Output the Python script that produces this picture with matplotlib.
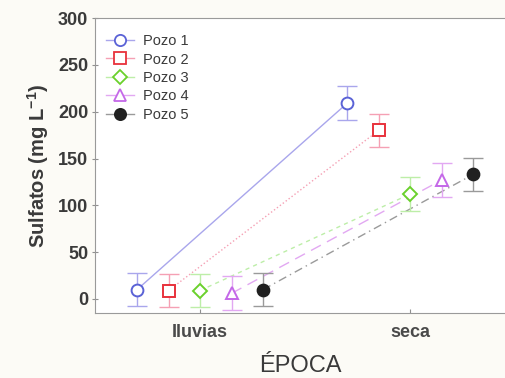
import matplotlib.pyplot as plt
from matplotlib.lines import Line2D
import numpy as np

plt.rcParams['font.family'] = ['Liberation Sans', 'DejaVu Sans']

# Sulfate means and error half-widths per well and season
epocas = ['lluvias', 'seca']
pozos = ['Pozo 1', 'Pozo 2', 'Pozo 3', 'Pozo 4', 'Pozo 5']
medias = {
    'Pozo 1': [10, 209],
    'Pozo 2': [9, 180],
    'Pozo 3': [9, 112],
    'Pozo 4': [6, 127],
    'Pozo 5': [10, 133],
}
errores = {
    'Pozo 1': [18, 18],
    'Pozo 2': [18, 18],
    'Pozo 3': [18, 18],
    'Pozo 4': [18, 18],
    'Pozo 5': [18, 18],
}

# marker, marker colour, bar/line colour, linestyle, filled
estilos = {
    'Pozo 1': ('o', '#5a62d6', '#a9a6ec', '-', False),
    'Pozo 2': ('s', '#e8323c', '#f5a0b4', ':', False),
    'Pozo 3': ('D', '#6ad12c', '#bdeea8', (0, (3, 3)), False),
    'Pozo 4': ('^', '#c468e8', '#e2a8f2', (0, (8, 5)), False),
    'Pozo 5': ('o', '#202020', '#9a9a9a', (0, (6, 3, 1, 3)), True),
}
tamanos = {'o': 8.5, 's': 8.5, 'D': 7, '^': 8.5}

fig = plt.figure(figsize=(5.06, 3.78), dpi=100)
fig.patch.set_facecolor('#fcfbf6')
ax = fig.add_axes([0.188, 0.172, 0.812, 0.78])

x = np.arange(len(epocas))
desplaz = np.array([-2, -1, 0, 1, 2]) * 0.15

handles = []
for i, p in enumerate(pozos):
    m, mc, lc, ls, lleno = estilos[p]
    xs = x + desplaz[i]
    ax.plot(xs, medias[p], color=lc, lw=1.0, ls=ls, zorder=1)
    ax.errorbar(xs, medias[p], yerr=errores[p], fmt='none', ecolor=lc,
                elinewidth=1.0, capsize=7.5, capthick=1.0, zorder=2)
    ax.plot(xs, medias[p], ls='none', marker=m, ms=tamanos[m],
            mfc=mc if lleno else 'white', mec=mc, mew=1.4, zorder=3)
    handles.append(Line2D([], [], color=lc, lw=1.0, ls='-', marker=m,
                          ms=tamanos[m] * 0.95, mfc=mc if lleno else 'white',
                          mec=mc, mew=1.3))

ax.set_xlim(-0.5, 1.457)
ax.set_ylim(-15, 300)
ax.set_xticks(x)
ax.set_xticklabels(['Iluvias', 'seca'], fontsize=13, fontweight='bold', color='#4a4a4a')
ax.set_yticks(np.arange(0, 301, 50))
ax.tick_params(axis='y', labelsize=13, labelcolor='#3a3a3a', direction='inout',
               length=4, color='#909090', pad=3)
ax.tick_params(axis='x', direction='in', length=3, color='#909090', pad=8)
for lab in ax.get_yticklabels():
    lab.set_fontweight('bold')

for s in ['left', 'bottom', 'top']:
    ax.spines[s].set_color('#9a9a9a')
ax.spines['right'].set_visible(False)

ax.set_ylabel('Sulfatos (mg L$^{\\mathregular{-1}}$)', fontsize=14.5, fontweight='bold',
              color='#3a3a3a', labelpad=5)
ax.set_xlabel('ÉPOCA', fontsize=17, fontweight='medium', color='#3a3a3a', labelpad=10)

ax.legend(handles, pozos, loc='upper left', frameon=False, fontsize=10.5,
          handlelength=1.9, handletextpad=0.6, labelspacing=0.3,
          labelcolor='#3a3a3a', bbox_to_anchor=(-0.005, 0.99))

fig.savefig('out.png', dpi=100, facecolor=fig.get_facecolor())
